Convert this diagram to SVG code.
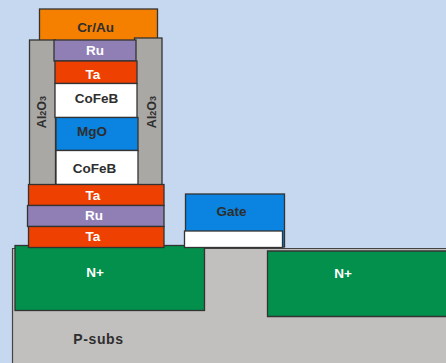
<svg xmlns="http://www.w3.org/2000/svg" width="446" height="363" viewBox="0 0 446 363">
<style>
.l{stroke:#333;stroke-width:1.3}
.g{fill:#a9a8a5}.o{fill:#f58000}.p{fill:#8f7fb5}.r{fill:#ee4000}.w{fill:#fff}.b{fill:#0a84e0}.n{fill:#02904c}
text{font-family:"Liberation Sans",Arial,sans-serif;font-weight:bold;font-size:13.5px;text-anchor:middle}
.d{fill:#2e2e2e}.t{fill:#fff}
</style>
<rect width="446" height="363" fill="#c6d8f0"/>
<g id="substrate"><path d="M12.500 363V248.500H446V363Z" fill="#c2c0bf"/><path d="M12.500 363V248.500H446" fill="none" stroke="#444" stroke-width="1.200"/><text class="d" x="98.500" y="344.300" style="letter-spacing:.6px;font-size:14px">P-subs</text></g>
<g id="n-left"><rect class="n l" x="15" y="245.500" width="189.500" height="65"/><text class="t" x="95" y="277">N+</text></g>
<g id="n-right"><path class="n l" d="M446 251H267.500V316.500H446"/><text class="t" x="343" y="278">N+</text></g>
<g id="gate"><rect class="b l" x="185.500" y="194" width="99" height="53"/><text class="d" x="231.500" y="215.700">Gate</text></g>
<g id="gate-oxide"><rect class="w l" x="184.500" y="231" width="98" height="16.500"/></g>
<g id="cr-au"><rect class="o l" x="39.500" y="9" width="118" height="32"/><text class="d" x="95.500" y="32">Cr/Au</text></g>
<g id="al2o3-left"><rect class="g l" x="29.500" y="40" width="26" height="145"/><text class="d" transform="translate(46 112) rotate(-90)" style="font-size:12.500px">Al<tspan font-size="9">2</tspan>O<tspan font-size="9">3</tspan></text></g>
<g id="al2o3-right"><rect class="g l" x="134.500" y="38" width="27.500" height="147"/><text class="d" transform="translate(156 112) rotate(-90)" style="font-size:12.500px">Al<tspan font-size="9">2</tspan>O<tspan font-size="9">3</tspan></text></g>
<g id="ru-top"><rect class="p l" x="54" y="40" width="82" height="21"/><text class="t" x="95" y="55">Ru</text></g>
<g id="ta-top"><rect class="r l" x="55" y="61" width="82" height="22.500"/><text class="t" x="93" y="79">Ta</text></g>
<g id="cofeb-top"><rect class="w l" x="55" y="83.500" width="82" height="34"/><text class="d" x="96.500" y="102.700">CoFeB</text></g>
<g id="mgo"><rect class="b l" x="56" y="117.500" width="82" height="33"/><text class="d" x="92" y="136">MgO</text></g>
<g id="cofeb-bottom"><rect class="w l" x="56" y="150.500" width="82" height="34"/><text class="d" x="94.500" y="172.700">CoFeB</text></g>
<g id="ta-mid"><rect class="r l" x="28.500" y="184.500" width="135.500" height="21"/><text class="t" x="93" y="200">Ta</text></g>
<g id="ru-bottom"><rect class="p l" x="27.500" y="205.500" width="136.500" height="21"/><text class="t" x="94" y="220">Ru</text></g>
<g id="ta-bottom"><rect class="r l" x="28.500" y="226.500" width="135.500" height="21"/><text class="t" x="93" y="241">Ta</text></g>
<g id="connectors"/>
</svg>
